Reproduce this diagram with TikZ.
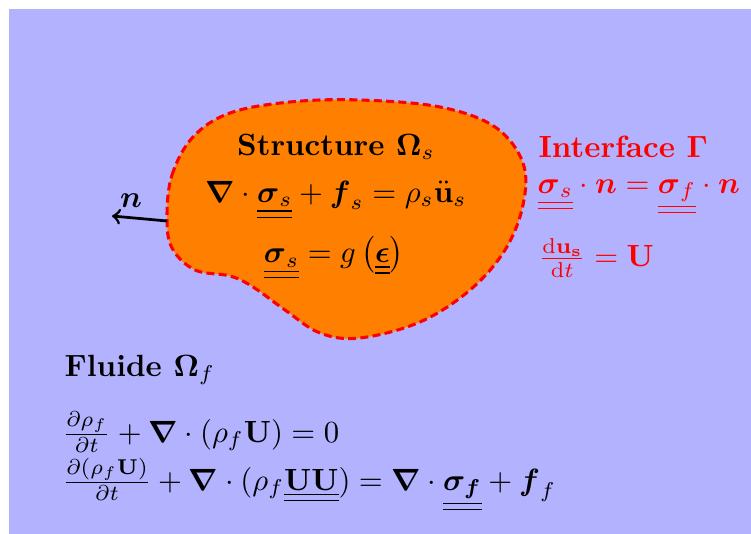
\documentclass[tikz,border=0pt]{standalone}
\usepackage{amsmath,amssymb}
\definecolor{bgblue}{RGB}{178,178,255}
\definecolor{blobor}{RGB}{255,128,0}
\definecolor{ifred}{RGB}{255,0,0}
\newcommand{\dul}[1]{\underline{\underline{#1}}}
\begin{document}
\begin{tikzpicture}[x=0.3257pt,y=-0.3257pt,
  txt/.style={inner sep=0pt},
  lefttxt/.style={inner sep=0pt,anchor=west},
  redtxt/.style={inner sep=0pt,anchor=west,text=ifred}]
\useasboundingbox (0,0) rectangle (751,534);
\fill[bgblue] (9,9) rectangle (751,534);
\path[fill=blobor,draw=ifred,line width=1pt,dash pattern=on 2.6pt off 1.4pt]
  plot[smooth cycle,tension=0.6] coordinates{
  (167,217) (172,175) (193,137) (230,113) (290,102) (360,100) (440,107)
  (495,127) (523,163) (523,205) (505,250) (470,290) (420,322) (360,338)
  (320,333) (285,310) (253,287) (230,276) (195,270) (172,248)};
\coordinate (nstart) at (167,221);
\coordinate (nend) at (112,216);
\draw[->,line width=0.9pt] (nstart) -- (nend);
\node[txt] (nlab) at (131,201) {$\boldsymbol{n}$};
\node[txt] (stitle) at (336,147) {\textbf{Structure $\boldsymbol{\Omega}_s$}};
\node[txt] (seq1) at (336,200) {$\boldsymbol{\nabla}\cdot\dul{\boldsymbol{\sigma}_s}+\boldsymbol{f}_s=\rho_s\ddot{\mathbf{u}}_s$};
\node[txt] (seq2) at (334,258) {$\dul{\boldsymbol{\sigma}_s}=g\left(\dul{\boldsymbol{\epsilon}}\right)$};
\node[redtxt] (ititle) at (538,147) {\textbf{Interface $\boldsymbol{\Gamma}$}};
\node[redtxt] (ieq1) at (537,197) {$\dul{\boldsymbol{\sigma}_s}\cdot\boldsymbol{n}=\dul{\boldsymbol{\sigma}_f}\cdot\boldsymbol{n}$};
\node[redtxt] (ieq2) at (538,258) {$\frac{\mathrm{d}\mathbf{u_s}}{\mathrm{d}t}=\mathbf{U}$};
\node[lefttxt] (ftitle) at (64,370) {\textbf{Fluide $\boldsymbol{\Omega}_f$}};
\node[lefttxt] (feq1) at (62,432) {$\frac{\partial\rho_f}{\partial t}+\boldsymbol{\nabla}\cdot(\rho_f\mathbf{U})=0$};
\node[lefttxt] (feq2) at (62,485) {$\frac{\partial(\rho_f\mathbf{U})}{\partial t}+\boldsymbol{\nabla}\cdot(\rho_f\dul{\mathbf{UU}})=\boldsymbol{\nabla}\cdot\dul{\boldsymbol{\sigma_f}}+\boldsymbol{f}_f$};
\end{tikzpicture}
\end{document}
